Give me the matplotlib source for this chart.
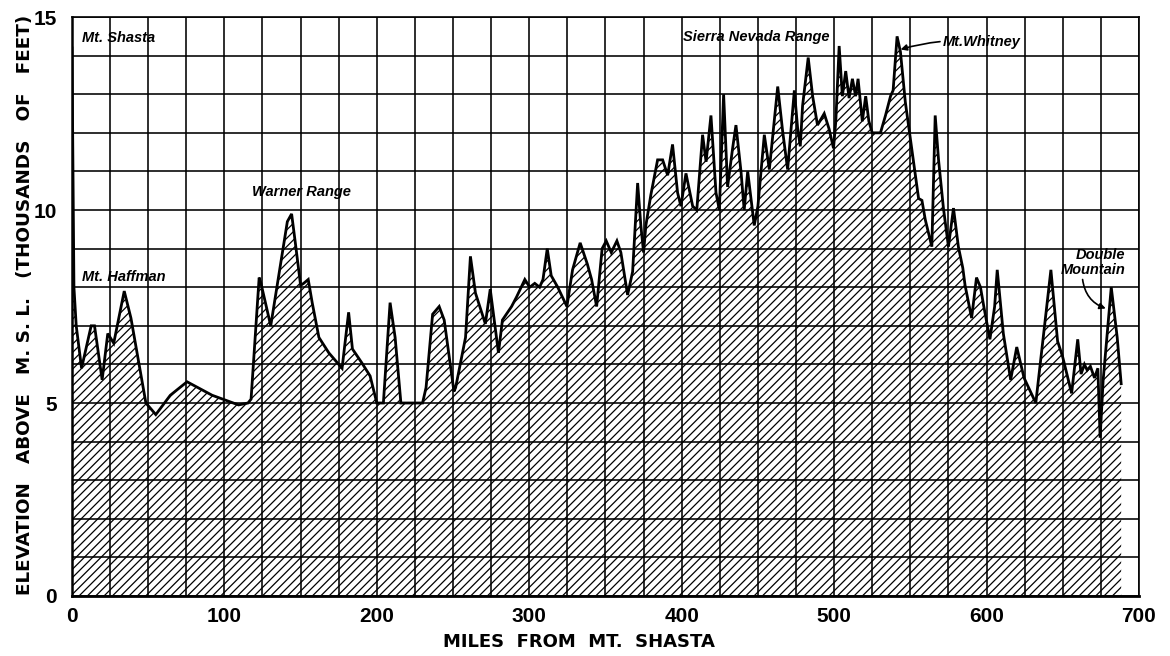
import matplotlib
matplotlib.use("Agg")
import matplotlib.pyplot as plt
import numpy as np

# Profile: miles from Mt. Shasta vs elevation (1000 ft)
miles = [0, 1.3, 2.8, 6.3, 12.6, 14.8, 19.8, 23.5, 27.4, 34.3, 38.7, 48.5,
         55.0, 64.5, 75.5, 92.0, 109.3, 115.5, 117.5, 122.8, 124.0, 130.4,
         141.3, 144.1, 146.7, 150.0, 152.0, 155.0, 157.6, 162.0, 168.5,
         177.2, 181.5, 184.0, 190.0, 195.6, 200.0, 204.3, 208.7, 212.0,
         215.8, 230.0, 232.3, 236.6, 240.9, 244.2, 250.6, 251.7, 258.2,
         261.4, 264.7, 271.2, 274.4, 279.8, 282.4, 288.4, 291.7, 297.1,
         300.3, 303.6, 306.8, 309.0, 311.8, 314.4, 318.7, 324.7, 328.4,
         333.4, 338.1, 340.9, 344.2, 347.8, 350.5, 353.8, 357.5, 360.1,
         364.5, 367.8, 371.1, 373.2, 375.0, 376.5, 379.8, 384.2, 387.5,
         390.8, 394.0, 397.3, 399.5, 402.8, 407.2, 409.9, 413.7, 416.0,
         419.2, 422.5, 424.7, 427.5, 430.1, 433.4, 435.6, 438.9, 441.0,
         443.3, 447.6, 450.0, 454.2, 457.5, 463.0, 466.2, 469.5, 473.9,
         476.1, 477.8, 479.3, 483.0, 485.9, 489.1, 491.3, 493.5, 496.7,
         499.6, 501.1, 503.3, 505.4, 507.6, 509.8, 512.0, 514.1, 515.7,
         518.5, 520.7, 522.8, 525.0, 530.4, 533.7, 537.0, 538.7, 541.3,
         543.5, 546.7, 550.0, 553.3, 555.4, 557.6, 559.8, 564.1, 566.3,
         568.5, 571.7, 575.0, 578.3, 581.5, 584.4, 585.9, 590.2, 593.4,
         596.0, 598.2, 602.2, 605.3, 607.0, 611.0, 615.8, 619.8, 624.6,
         632.3, 642.2, 646.6, 649.9, 655.8, 659.8, 662.0, 664.2, 666.0,
         668.1, 670.8, 673.0, 674.5, 676.5, 681.8, 685.7, 688.3]
elev = [14.2, 8.0, 7.0, 5.9, 7.0, 7.0, 5.6, 6.8, 6.55, 7.9, 7.2, 5.0,
        4.7, 5.2, 5.55, 5.2, 4.95, 5.0, 5.1, 8.25, 8.1, 7.0,
        9.7, 9.9, 9.1, 8.05, 8.1, 8.2, 7.6, 6.7, 6.3,
        5.9, 7.35, 6.4, 6.05, 5.7, 5.0, 5.0, 7.6, 6.7,
        5.0, 5.0, 5.4, 7.3, 7.5, 7.15, 5.3, 5.4, 6.7,
        8.8, 7.85, 7.05, 7.95, 6.3, 7.15, 7.5, 7.75, 8.2,
        8.0, 8.1, 8.0, 8.2, 9.0, 8.3, 8.0, 7.5, 8.45,
        9.15, 8.6, 8.2, 7.5, 9.0, 9.2, 8.9, 9.2, 8.9,
        7.8, 8.4, 10.7, 9.6, 8.9, 9.6, 10.4, 11.3, 11.3,
        10.9, 11.7, 10.45, 10.1, 10.95, 10.1, 10.0, 11.95, 11.25,
        12.45, 10.45, 10.0, 13.0, 10.6, 11.6, 12.2, 11.0, 10.0,
        11.0, 9.6, 10.1, 11.95, 11.05, 13.2, 12.05, 11.05, 13.1,
        12.1, 11.65, 12.7, 13.95, 12.95, 12.2, 12.35, 12.5, 12.1,
        11.6, 12.3, 14.25, 12.95, 13.6, 12.9, 13.4, 12.95, 13.4,
        12.3, 12.95, 12.3, 12.0, 12.0, 12.45, 12.95, 13.1, 14.5,
        14.1, 12.8, 11.85, 10.9, 10.3, 10.25, 9.75, 9.05, 12.45,
        11.3, 10.05, 9.05, 10.05, 9.05, 8.5, 8.05, 7.2, 8.25,
        8.0, 7.5, 6.65, 7.5, 8.45, 6.8, 5.6, 6.45, 5.65,
        5.0, 8.45, 6.6, 6.2, 5.25, 6.65, 5.75, 6.0, 5.85,
        5.95, 5.65, 5.9, 4.1, 5.6, 8.0, 6.7, 5.5]

x_ticks = [0, 100, 200, 300, 400, 500, 600, 700]
y_ticks = [0, 5, 10, 15]

plt.rcParams["font.family"] = ["Liberation Sans", "DejaVu Sans"]
plt.rcParams["hatch.linewidth"] = 0.9

fig = plt.figure(figsize=(11.7, 6.56), dpi=100)
ax = fig.add_axes([0.0615, 0.0915, 0.912, 0.8825])

ax.fill_between(miles, elev, 0, facecolor="white", edgecolor="black",
                hatch="////", linewidth=0, zorder=1)
ax.plot(miles, elev, color="black", linewidth=2.0, zorder=4,
        solid_joinstyle="miter")

ax.set_xlim(0, 700)
ax.set_ylim(0, 15)
ax.set_xticks(x_ticks)
ax.set_xticks(np.arange(0, 701, 25), minor=True)
ax.set_yticks(y_ticks)
ax.set_yticks(np.arange(0, 16, 1), minor=True)
ax.set_xticklabels([str(t) for t in x_ticks])
ax.set_yticklabels([str(t) for t in y_ticks])
ax.tick_params(which="both", length=0)
ax.tick_params(axis="x", pad=8, labelsize=15)
ax.tick_params(axis="y", pad=11, labelsize=15)
for lab in ax.get_xticklabels() + ax.get_yticklabels():
    lab.set_fontweight("bold")

ax.set_axisbelow(False)
ax.grid(True, which="both", color="black", linewidth=1.15, zorder=3)
for side in ["top", "right"]:
    ax.spines[side].set_linewidth(1.2)
ax.spines["left"].set_linewidth(1.8)
ax.spines["bottom"].set_linewidth(2.0)

note = dict(fontsize=10.5, fontweight="bold", fontstyle="italic",
            color="black", zorder=6)
ax.text(6.5, 14.46, "Mt. Shasta", va="center", ha="left", **note)
ax.text(6.5, 8.27, "Mt. Haffman", va="center", ha="left", **note)
ax.text(117.8, 10.47, "Warner Range", va="center", ha="left", **note)
ax.text(401, 14.49, "Sierra Nevada Range", va="center", ha="left", **note)
ax.annotate("Mt.Whitney", xy=(543.6, 14.16), xytext=(571.3, 14.36),
            va="center", ha="left",
            arrowprops=dict(arrowstyle="-|>", color="black", lw=1.2,
                            mutation_scale=9, shrinkA=0, shrinkB=0,
                            connectionstyle="arc3,rad=0.1"),
            **note)
ax.text(691, 8.64, "Double\nMountain", va="center", ha="right",
        multialignment="right", linespacing=1.05, **note)
ax.annotate("", xy=(678.2, 7.45), xytext=(663.0, 8.2),
            arrowprops=dict(arrowstyle="-|>", color="black", lw=1.2,
                            mutation_scale=9, shrinkA=0, shrinkB=0,
                            connectionstyle="arc3,rad=0.3"))

label = dict(fontweight="bold", family="DejaVu Sans",
             ha="center", va="center")
fig.text(0.0214, 0.535,
         "ELEVATION   ABOVE   M. S. L.   (THOUSANDS   OF   FEET)",
         rotation=90, fontsize=13.2, **label)
fig.text(0.495, 0.022, "MILES  FROM  MT.  SHASTA", fontsize=13, **label)

fig.savefig("out.png", dpi=100, facecolor="white")
